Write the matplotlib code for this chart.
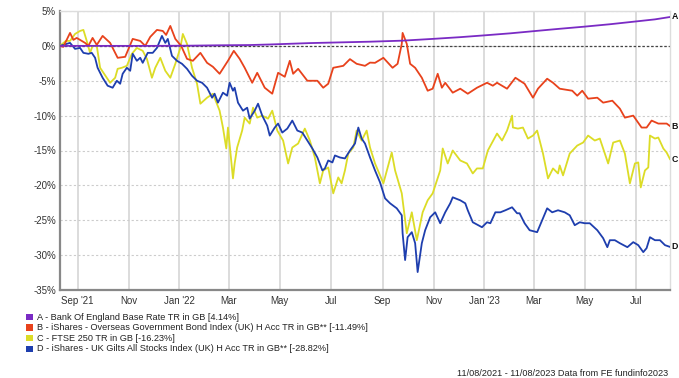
import matplotlib
matplotlib.use("Agg")
import matplotlib.pyplot as plt
import matplotlib.dates as mdates
from matplotlib.patches import Rectangle
import pandas as pd

plt.rcParams['font.family'] = ['Liberation Sans', 'DejaVu Sans']

START = "2021-08-11"

# Series A - Bank Of England Base Rate (days since start, % return)
a_days = [0, 108, 156, 188, 227, 251, 275, 299, 335, 371, 410, 446, 479, 507, 539, 566, 598, 627, 658, 689, 712, 730]
a_vals = [0, 0.0, 0.03, 0.08, 0.12, 0.2, 0.3, 0.4, 0.5, 0.6, 0.75, 1.0, 1.25, 1.5, 1.8, 2.1, 2.45, 2.75, 3.1, 3.5, 3.8, 4.14]

# Series B - iShares Overseas Government Bond Index
b_days = [0, 4, 12, 16, 20, 30, 34, 39, 44, 51, 60, 69, 78, 87, 96, 102, 108, 116, 123, 127, 132, 138,
          145, 152, 159, 168, 176, 183, 191, 201, 208, 215, 221, 230, 236, 245, 254, 261, 269, 275, 279,
          285, 296, 308, 315, 321, 327, 339, 347, 355, 365, 371, 377, 387, 398, 404, 409, 410, 415, 419,
          425, 433, 440, 446, 452, 457, 461, 470, 479, 488, 499, 511, 518, 523, 535, 545, 556, 566, 572,
          583, 590, 598, 613, 619, 625, 632, 643, 650, 661, 670, 676, 686, 696, 702, 708, 716, 726, 730]
b_vals = [0, -0.14, 1.86, 0.86, 1.14, 0.43, 0, 1.14, 0.14, 1.43, 0.43, -1.71, -1.57, 1.0, 0.71, 0, 1.29,
          2.29, 2.14, 1.57, 2.86, 1.0, 0, -1.86, -2.14, -1.0, -2.43, -3.0, -4.0, -2.14, -0.71, -1.86, -3.14,
          -5.29, -3.86, -6.0, -6.86, -3.86, -4.43, -2.14, -4.0, -3.29, -5.0, -5.0, -6.0, -5.43, -3.14, -2.86,
          -1.9, -2.57, -2.86, -2.4, -2.43, -1.71, -3.14, -2.57, 0.29, 1.86, 0.29, -2.57, -3.14, -4.57, -6.43,
          -6.14, -4.0, -6.0, -5.29, -6.71, -6.14, -6.86, -6.0, -5.29, -5.71, -5.29, -6.14, -4.57, -5.43,
          -7.43, -6.14, -4.71, -5.29, -6.14, -6.43, -7.14, -6.43, -7.57, -7.43, -8.14, -7.86, -9.0, -10.29,
          -10.0, -11.71, -11.71, -10.71, -11.14, -11.14, -11.49]

# Series C - FTSE 250
c_days = [0, 7, 12, 18, 24, 28, 32, 36, 39, 44, 48, 60, 66, 69, 74, 80, 86, 92, 99, 104, 110, 114, 120,
          126, 132, 138, 144, 147, 152, 158, 164, 168, 176, 183, 191, 195, 199, 201, 207, 209, 212, 218,
          221, 227, 231, 236, 242, 249, 254, 260, 267, 273, 278, 285, 293, 299, 305, 311, 315, 321, 327,
          333, 337, 341, 345, 351, 355, 361, 367, 371, 377, 387, 397, 401, 409, 415, 421, 427, 434, 440,
          446, 455, 458, 464, 470, 479, 487, 494, 499, 506, 512, 523, 529, 535, 541, 542, 548, 554, 560,
          566, 571, 578, 584, 590, 596, 598, 602, 610, 619, 626, 632, 640, 646, 652, 656, 662, 670, 676,
          682, 688, 692, 695, 700, 704, 706, 712, 716, 722, 726, 730]
c_vals = [0, 0.71, 0.71, 1.71, 2.14, 2.29, 0.71, -1.0, 0, 0, -3.14, -5.29, -4.57, -3.29, -3.14, -2.86,
          -1.14, -0.29, -0.71, -1.86, -4.57, -3.14, -1.71, -3.57, -4.57, -2.57, -0.29, 1.71, 0.29, -3.14,
          -5.43, -8.29, -7.43, -6.86, -9.29, -11.71, -14.71, -11.71, -19.0, -16.86, -14.57, -12.14, -10.29,
          -11.14, -8.86, -10.29, -10.0, -10.43, -9.29, -12.14, -13.57, -16.86, -14.57, -14.0, -11.86,
          -13.57, -16.0, -19.71, -17.86, -17.43, -21.14, -18.86, -19.71, -17.86, -15.43, -14.57, -12.14,
          -13.57, -12.14, -14.57, -16.86, -19.71, -15.29, -17.86, -21.14, -26.86, -23.86, -27.86, -23.86,
          -22.14, -21.14, -17.86, -14.71, -16.86, -15.0, -16.43, -16.86, -18.29, -17.57, -17.57, -15.0,
          -12.57, -13.57, -12.14, -10.0, -11.7, -11.86, -11.71, -13.29, -12.86, -12.14, -15.43, -19.0,
          -17.57, -18.29, -17.14, -18.57, -15.43, -14.29, -13.86, -12.86, -13.57, -13.29, -15.43, -16.86,
          -13.86, -13.57, -15.43, -19.71, -16.86, -16.71, -20.29, -17.86, -17.43, -12.86, -13.29, -13.14,
          -14.71, -15.3, -16.23]

# Series D - iShares UK Gilts All Stocks Index
d_days = [0, 8, 12, 18, 24, 28, 34, 38, 42, 45, 51, 57, 63, 68, 72, 75, 80, 84, 87, 92, 96, 99, 105,
          111, 116, 122, 126, 129, 134, 140, 146, 152, 158, 164, 170, 176, 182, 185, 189, 195, 200, 203,
          207, 209, 213, 219, 224, 227, 233, 237, 242, 248, 251, 257, 261, 266, 272, 278, 284, 290, 296,
          302, 308, 314, 317, 321, 326, 329, 335, 341, 347, 353, 357, 361, 365, 371, 377, 383, 389, 395,
          403, 409, 410, 413, 416, 421, 425, 428, 433, 437, 443, 449, 455, 461, 467, 470, 479, 485, 488,
          494, 505, 511, 515, 521, 527, 533, 541, 547, 550, 556, 562, 571, 577, 583, 589, 596, 604, 610,
          616, 622, 628, 634, 643, 650, 655, 658, 664, 670, 679, 686, 692, 698, 702, 706, 712, 718, 724, 730]
d_vals = [0, 0.29, 0.43, -0.43, -0.29, -1.0, -1.14, -1.0, -1.71, -3.14, -4.57, -5.71, -6.0, -5.0, -5.43,
          -4.0, -3.14, -3.57, -1.14, -2.14, -1.71, -2.43, -1.0, -1.0, -0.29, 1.43, 0.43, 1.0, -1.43, -2.14,
          -2.57, -3.29, -4.29, -5.0, -5.29, -6.0, -7.43, -6.86, -8.14, -6.71, -7.14, -5.29, -6.43, -6.0,
          -8.14, -9.29, -8.86, -10.43, -9.29, -8.29, -10.0, -11.43, -12.86, -11.71, -11.14, -12.43, -11.86,
          -10.71, -12.14, -12.43, -13.57, -14.71, -16.0, -17.86, -17.57, -16.43, -16.71, -15.71, -16.0,
          -16.14, -15.0, -14.0, -11.71, -13.29, -14.0, -16.0, -17.86, -19.57, -21.86, -22.57, -23.29,
          -24.29, -26.86, -30.71, -27.43, -26.71, -28.29, -32.43, -28.29, -26.43, -24.57, -23.86, -25.43,
          -23.86, -22.57, -21.71, -22.14, -22.57, -23.57, -25.29, -26.0, -25.29, -25.43, -23.86, -23.86,
          -23.57, -23.14, -24.0, -24.0, -25.43, -26.43, -26.71, -25.0, -23.29, -23.86, -23.57, -23.86,
          -24.29, -25.71, -25.29, -25.43, -25.43, -26.43, -27.57, -28.86, -27.86, -27.86, -28.29, -28.86,
          -28.14, -28.57, -29.57, -29.0, -27.43, -27.86, -27.86, -28.57, -28.82]

series_labels = ["A", "B", "C", "D"]
legend_texts = [
    "A - Bank Of England Base Rate TR in GB [4.14%]",
    "B - iShares - Overseas Government Bond Index (UK) H Acc TR in GB** [-11.49%]",
    "C - FTSE 250 TR in GB [-16.23%]",
    "D - iShares - UK Gilts All Stocks Index (UK) H Acc TR in GB** [-28.82%]",
]
colors = ["#7a2bc4", "#e8421c", "#dcdc26", "#1e3eae"]

tick_dates = ["2021-09-01", "2021-11-01", "2022-01-01", "2022-03-01", "2022-05-01", "2022-07-01",
              "2022-09-01", "2022-11-01", "2023-01-01", "2023-03-01", "2023-05-01", "2023-07-01"]
tick_labels = ["Sep '21", "Nov", "Jan '22", "Mar", "May", "Jul", "Sep", "Nov", "Jan '23", "Mar", "May", "Jul"]
y_ticks = [5, 0, -5, -10, -15, -20, -25, -30, -35]
footer = "11/08/2021 - 11/08/2023 Data from FE fundinfo2023"

start = pd.Timestamp(START)
def to_dates(days):
    return start + pd.to_timedelta(days, unit="D")

fig = plt.figure(figsize=(6.79, 3.78), dpi=100)
ax = fig.add_axes([60/679, 1-290/378, 610/679, 279/378])

# grid
for td in tick_dates:
    ax.axvline(pd.Timestamp(td), color="#d9d9d9", lw=1.3, zorder=0)
for yt in y_ticks:
    ax.axhline(yt, color="#cccccc", lw=0.8, ls=(0, (2, 2)), zorder=0)
ax.axhline(0, color="#444444", lw=0.9, ls=(0, (2, 1.5)), zorder=1)

data = [(a_days, a_vals), (b_days, b_vals), (c_days, c_vals), (d_days, d_vals)]
order = [2, 3, 1, 0]
for i in order:
    dd, vv = data[i]
    ax.plot(to_dates(dd), vv, color=colors[i], lw=1.3, zorder=3 + (1 if i == 0 else 0))

end = start + pd.Timedelta(days=730)
ax.set_xlim(start, end)
ax.set_ylim(-35, 5)
ax.set_yticks(y_ticks)
ax.set_yticklabels([f"{v}%" for v in y_ticks])
ax.set_xticks([pd.Timestamp(t) for t in tick_dates])
ax.set_xticklabels(tick_labels)
ax.tick_params(axis="both", labelsize=7, colors="#333333", length=0, pad=3)
ax.tick_params(axis="x", pad=4)

for s in ["top", "right"]:
    ax.spines[s].set_color("#dddddd")
    ax.spines[s].set_linewidth(1.0)
for s in ["left", "bottom"]:
    ax.spines[s].set_color("#888888")
    ax.spines[s].set_linewidth(1.6)

# end labels
for i, (dd, vv) in enumerate(data):
    ax.annotate(series_labels[i], xy=(to_dates([dd[-1]])[0], vv[-1]), xytext=(1.2, 0),
                textcoords="offset points", fontsize=6.3, fontweight="bold", va="center",
                ha="left", color="#111111", annotation_clip=False)

# legend
for i, txt in enumerate(legend_texts):
    yc = 1 - (317 + i * 10.6) / 378
    fig.patches.append(Rectangle((26/679, yc - 3.2/378), 6.5/679, 6.5/378,
                                 transform=fig.transFigure, facecolor=colors[i], edgecolor="none"))
    fig.text(37/679, yc, txt, fontsize=6.6, va="center", ha="left", color="#222222")

fig.text(668/679, 1 - 373/378, footer, fontsize=6.6, ha="right", va="center", color="#222222")

fig.savefig("out.png", dpi=100)
